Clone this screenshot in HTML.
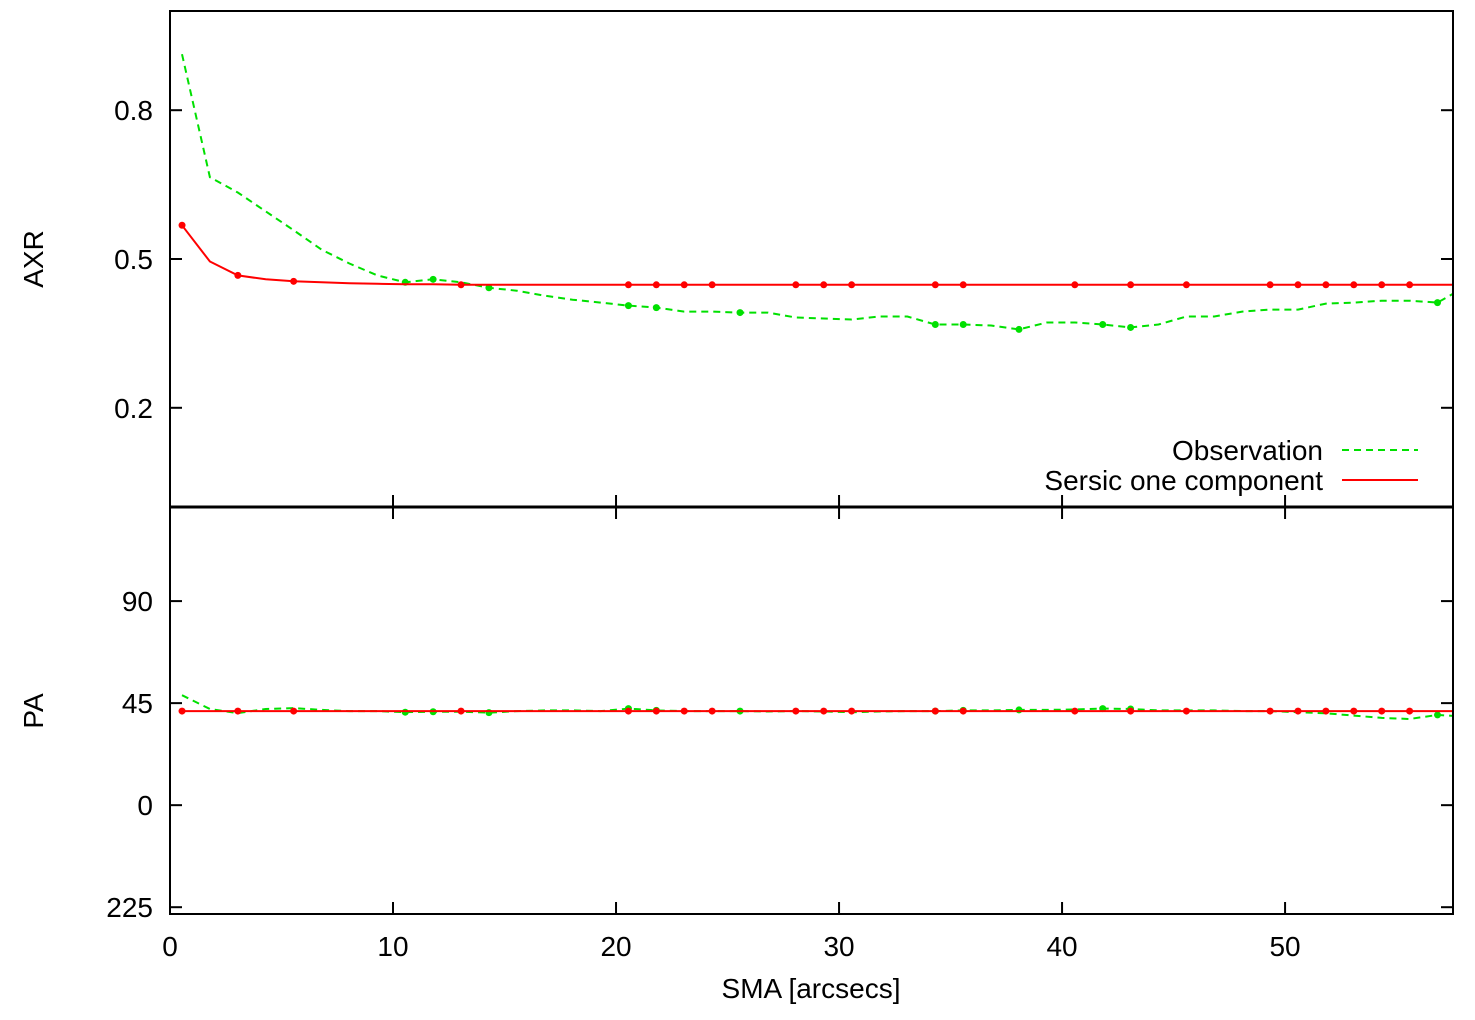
<!DOCTYPE html>
<html><head><meta charset="utf-8"><style>
html,body{margin:0;padding:0;background:#fff;}
svg text{font-family:"Liberation Sans",sans-serif;font-size:28px;fill:#000;}
</style></head><body>
<svg id="chart" width="1475" height="1015" xmlns="http://www.w3.org/2000/svg"></svg>
<script>
const xStart = 0.54, xStep = 1.251;
const axrObs = [0.913,0.665,0.634,0.596,0.558,0.519,0.491,0.467,0.453,0.459,0.453,0.442,0.436,0.426,0.418,0.412,0.406,0.402,0.394,0.394,0.392,0.392,0.382,0.380,0.378,0.384,0.384,0.368,0.368,0.366,0.358,0.372,0.372,0.368,0.362,0.368,0.384,0.384,0.394,0.398,0.398,0.410,0.412,0.416,0.416,0.412,0.444];
const axrModel = [0.568,0.495,0.467,0.459,0.455,0.453,0.451,0.450,0.449,0.449,0.448,0.448,0.448,0.448,0.448,0.448,0.448,0.448,0.448,0.448,0.448,0.448,0.448,0.448,0.448,0.448,0.448,0.448,0.448,0.448,0.448,0.448,0.448,0.448,0.448,0.448,0.448,0.448,0.448,0.448,0.448,0.448,0.448,0.448,0.448,0.448,0.448];
const paObs = [48.5,42.4,40.6,42.4,42.8,42.0,41.5,41.5,41.0,41.2,41.2,40.8,41.5,41.8,41.8,41.5,42.6,41.8,41.5,41.5,41.5,41.3,41.5,41.3,41.0,41.3,41.5,41.5,41.8,41.8,42.0,42.0,42.2,42.6,42.4,41.8,41.8,41.8,41.5,41.5,41.0,40.5,39.5,38.5,38.0,39.8,39.0];
const paModel = [41.5,41.5,41.5,41.5,41.5,41.5,41.5,41.5,41.5,41.5,41.5,41.5,41.5,41.5,41.5,41.5,41.5,41.5,41.5,41.5,41.5,41.5,41.5,41.5,41.5,41.5,41.5,41.5,41.5,41.5,41.5,41.5,41.5,41.5,41.5,41.5,41.5,41.5,41.5,41.5,41.5,41.5,41.5,41.5,41.5,41.5,41.5];
const modelMarkers = [0,2,4,10,16,17,18,19,22,23,24,27,28,32,34,36,39,40,41,42,43,44];
const obsMarkers = [8,9,11,16,17,20,27,28,30,33,34,45];
const xTicks = [0,10,20,30,40,50];
const axrTicks = [0.8,0.5,0.2];
const axrTickLabels = ["0.8","0.5","0.2"];
const paTicks = [90,45,0,-45];
const paTickLabels = ["90","45","0","225"];

const NS="http://www.w3.org/2000/svg";
const svg=document.getElementById('chart');
const L=170,R=1453,T=11,M=507,B=914;
const xMin=0,xMax=57.53;
const X=v=>L+(v-xMin)/(xMax-xMin)*(R-L);
const Ya=v=>M-(v-0)/(1-0)*(M-T);
const paMin=-48,paMax=131.5;
const Yp=v=>B-(v-paMin)/(paMax-paMin)*(B-M);
function el(tag,attrs,parent){const e=document.createElementNS(NS,tag);for(const k in attrs)e.setAttribute(k,attrs[k]);(parent||svg).appendChild(e);return e;}

const defs=el('defs',{});
const cp1=el('clipPath',{id:'c1'},defs);el('rect',{x:L,y:T,width:R-L,height:M-T},cp1);
const cp2=el('clipPath',{id:'c2'},defs);el('rect',{x:L,y:M,width:R-L,height:B-M},cp2);

function series(vals,Y,color,dash,clip,name,markers){
  const g=el('g',{'clip-path':'url(#'+clip+')'});
  
  
  const pts=vals.map((v,i)=>X(xStart+xStep*i).toFixed(1)+','+Y(v).toFixed(1)).join(' ');
  const p=el('polyline',{points:pts,fill:'none',stroke:color,'stroke-width':2,'stroke-dasharray':dash||'none'},g);
  
  
  markers.forEach(i=>{
    const c=el('circle',{cx:X(xStart+xStep*i),cy:Y(vals[i]),r:3.5,fill:color},g);
    
    
  });
}
series(axrObs,Ya,'#00e000','7,5','c1','axr-observation',obsMarkers);
series(axrModel,Ya,'#ff0000',null,'c1','axr-sersic-model',modelMarkers);
series(paObs,Yp,'#00e000','7,5','c2','pa-observation',obsMarkers);
series(paModel,Yp,'#ff0000',null,'c2','pa-sersic-model',modelMarkers);

el('rect',{x:L,y:T,width:R-L,height:B-T,fill:'none',stroke:'#000','stroke-width':2});
el('line',{x1:L,y1:M,x2:R,y2:M,stroke:'#000','stroke-width':3});
const tk=12;
xTicks.forEach(v=>{
  const x=X(v);
  [[M,-1],[M,1],[B,-1]].forEach(([y,d])=>el('line',{x1:x,y1:y,x2:x,y2:y+d*tk,stroke:'#000','stroke-width':2}));
  const t=el('text',{x:x,y:B+42,'text-anchor':'middle'});t.textContent=String(v);
  
  
});
axrTicks.forEach((v,i)=>{
  const y=Ya(v);
  el('line',{x1:L,y1:y,x2:L+tk,y2:y,stroke:'#000','stroke-width':2});
  el('line',{x1:R,y1:y,x2:R-tk,y2:y,stroke:'#000','stroke-width':2});
  const t=el('text',{x:L-17,y:y+10,'text-anchor':'end'});t.textContent=axrTickLabels[i];
  
  
});
paTicks.forEach((v,i)=>{
  const y=Yp(v);
  el('line',{x1:L,y1:y,x2:L+tk,y2:y,stroke:'#000','stroke-width':2});
  el('line',{x1:R,y1:y,x2:R-tk,y2:y,stroke:'#000','stroke-width':2});
  const t=el('text',{x:L-17,y:y+10,'text-anchor':'end'});t.textContent=paTickLabels[i];
  
  
});
</script>
<svg style="position:absolute;left:0;top:0" width="1475" height="1015" xmlns="http://www.w3.org/2000/svg">
<text x="0" y="0" transform="translate(43,259) rotate(-90)" text-anchor="middle" style="font-family:'Liberation Sans',sans-serif;font-size:28px">AXR</text>
<text x="0" y="0" transform="translate(43,711) rotate(-90)" text-anchor="middle" style="font-family:'Liberation Sans',sans-serif;font-size:28px">PA</text>
<text x="811" y="998" text-anchor="middle" style="font-family:'Liberation Sans',sans-serif;font-size:28px">SMA [arcsecs]</text>
<g>
<text x="1323" y="460" text-anchor="end" style="font-family:'Liberation Sans',sans-serif;font-size:28px">Observation</text>
<line x1="1342" y1="450" x2="1418" y2="450" stroke="#00e000" stroke-width="2" stroke-dasharray="7,5"/>
<text x="1323" y="490" text-anchor="end" style="font-family:'Liberation Sans',sans-serif;font-size:28px">Sersic one component</text>
<line x1="1342" y1="480" x2="1418" y2="480" stroke="#ff0000" stroke-width="2"/>
</g>
</svg>
</body></html>
